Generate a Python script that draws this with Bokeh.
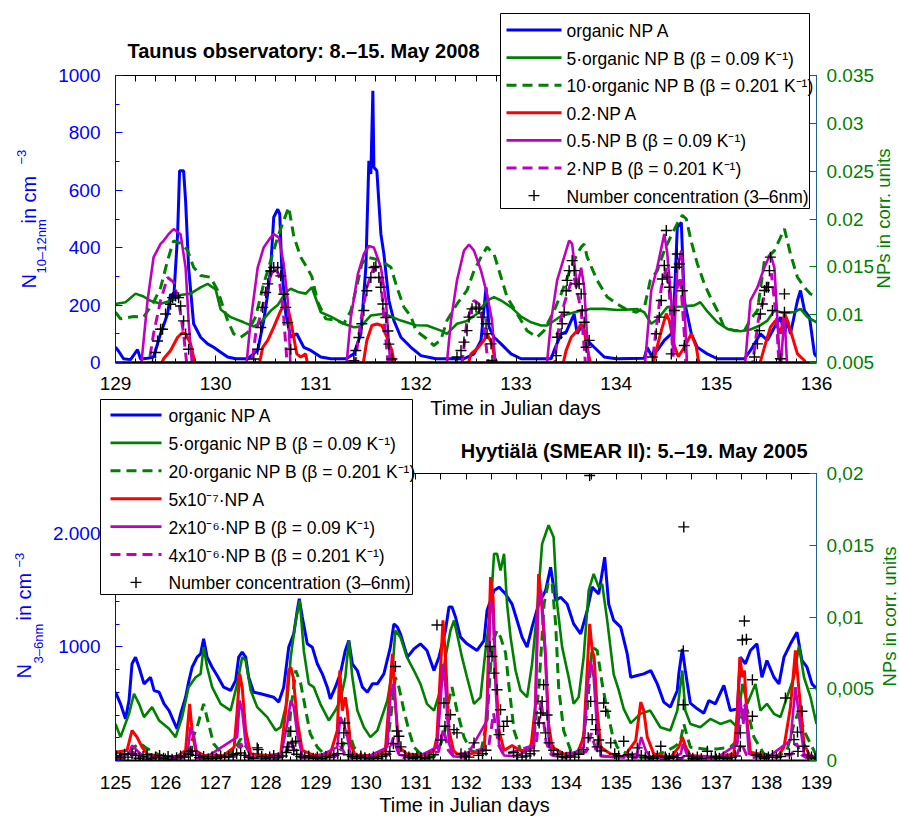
from math import pi
from bokeh.plotting import figure
from bokeh.models import Range1d, LinearAxis, FixedTicker, CustomJSTickFormatter
from bokeh.core.properties import value
from bokeh.layouts import column
from bokeh.embed import file_html
from bokeh.resources import INLINE

FONT = "Liberation Sans"
C_BLUE = "#0000ff"
C_GREEN = "#008000"
C_RED = "#ff0000"
C_MAG = "#bf00bf"
C_RAX = "#1f6488"

# ======================= Taunus (top panel) =======================
# NP series in corr. units (right axis), number concentration in cm^-3 (left axis)
taunus_blue = [(129.00,0.00659),(129.03,0.0062),(129.08,0.00539),(129.15,0.0053),(129.22,0.00635),(129.25,0.00536),
    (129.32,0.00545),(129.38,0.00557),(129.45,0.008),(129.52,0.01007),(129.55,0.01217),(129.58,0.01148),(129.62,0.01841),
    (129.64,0.02504),(129.68,0.02504),(129.70,0.02189),(129.73,0.01493),(129.78,0.00905),(129.85,0.00764),(129.92,0.00695),
    (129.98,0.00659),(130.05,0.00608),(130.12,0.00557),(130.20,0.00539),(130.32,0.00539),(130.42,0.00626),(130.48,0.00938),
    (130.52,0.01217),(130.55,0.01496),(130.58,0.02018),(130.62,0.02102),(130.64,0.02054),(130.66,0.01496),(130.70,0.01007),
    (130.75,0.00764),(130.81,0.008),(130.88,0.00659),(130.95,0.00626),(131.05,0.00557),(131.15,0.00539),(131.30,0.00539),
    (131.38,0.0059),(131.45,0.008),(131.50,0.01496),(131.53,0.02609),(131.55,0.02471),(131.57,0.03341),(131.58,0.0254),
    (131.61,0.02504),(131.65,0.01844),(131.68,0.01634),(131.73,0.01148),(131.78,0.00938),(131.85,0.00764),(131.95,0.00659),
    (132.05,0.00572),(132.20,0.00539),(132.35,0.00539),(132.48,0.00539),(132.58,0.0059),(132.65,0.00731),(132.70,0.01286),
    (132.73,0.00869),(132.78,0.00764),(132.85,0.00695),(132.95,0.0059),(133.05,0.00539),(133.35,0.00539),(133.38,0.00626),
    (133.45,0.008),(133.50,0.00818),(133.58,0.01007),(133.61,0.008),(133.66,0.0089),(133.71,0.00731),(133.78,0.00659),
    (133.88,0.00557),(134.00,0.00539),(134.28,0.00545),(134.31,0.00659),(134.35,0.00572),(134.41,0.00626),(134.48,0.00731),
    (134.55,0.008),(134.58,0.01148),(134.61,0.01913),(134.65,0.01964),(134.68,0.01148),(134.75,0.008),(134.81,0.00659),
    (134.91,0.0059),(135.01,0.00539),(135.28,0.00539),(135.34,0.00626),(135.44,0.008),(135.51,0.00731),(135.58,0.00869),
    (135.64,0.00974),(135.68,0.008),(135.71,0.00938),(135.74,0.008),(135.81,0.01148),(135.84,0.01253),(135.88,0.01043),
    (135.93,0.00974),(135.98,0.0059),(136.00,0.0056)]

taunus_green = [(129.00,0.01112),(129.10,0.0113),(129.20,0.0122),(129.28,0.0119),(129.35,0.01145),(129.45,0.01115),
    (129.55,0.01145),(129.65,0.01205),(129.75,0.0122),(129.85,0.01286),(129.92,0.01322),(130.00,0.01265),(130.05,0.01055),
    (130.15,0.00974),(130.28,0.0092),(130.38,0.00875),(130.45,0.0092),(130.55,0.0104),(130.62,0.011),(130.70,0.01235),
    (130.75,0.01271),(130.82,0.01238),(130.90,0.0122),(130.96,0.01286),(131.05,0.01025),(131.15,0.0098),(131.28,0.00905),
    (131.38,0.00869),(131.45,0.00875),(131.55,0.00992),(131.68,0.0101),(131.85,0.00938),(132.00,0.0089),(132.11,0.00887),
    (132.25,0.00833),(132.31,0.008),(132.41,0.00905),(132.51,0.00935),(132.61,0.0101),(132.71,0.01148),(132.78,0.01184),
    (132.85,0.01148),(132.95,0.01079),(133.05,0.0098),(133.15,0.0092),(133.25,0.00887),(133.31,0.00887),(133.45,0.00986),
    (133.55,0.01016),(133.65,0.01043),(133.75,0.01061),(133.88,0.01061),(134.01,0.01049),(134.21,0.01058),(134.28,0.01025),
    (134.35,0.00905),(134.41,0.0095),(134.51,0.01079),(134.65,0.01085),(134.78,0.01097),(134.84,0.0113),(134.91,0.01034),
    (135.01,0.0092),(135.11,0.00851),(135.24,0.00827),(135.34,0.00845),(135.44,0.0089),(135.51,0.00938),(135.58,0.01043),
    (135.68,0.01016),(135.78,0.01028),(135.84,0.01061),(135.91,0.00974),(136.00,0.0092)]

taunus_green_d = [(129.00,0.01025),(129.05,0.00956),(129.18,0.0098),(129.28,0.00974),(129.38,0.0113),(129.45,0.0128),
    (129.52,0.01565),(129.58,0.01772),(129.67,0.01739),(129.72,0.0167),(129.78,0.01496),(129.85,0.01409),(129.95,0.01391),
    (130.02,0.01253),(130.12,0.00938),(130.18,0.008),(130.25,0.00764),(130.32,0.00815),(130.40,0.0098),(130.48,0.01322),
    (130.55,0.01565),(130.62,0.01811),(130.68,0.01985),(130.73,0.02123),(130.78,0.0182),(130.85,0.01601),(130.91,0.01496),
    (130.96,0.014),(131.02,0.0113),(131.10,0.00956),(131.20,0.00944),(131.28,0.00905),(131.35,0.0104),(131.40,0.01253),
    (131.46,0.01532),(131.51,0.01601),(131.58,0.01586),(131.65,0.01565),(131.75,0.01496),(131.81,0.01286),(131.88,0.01079),
    (131.95,0.0098),(132.00,0.00833),(132.11,0.00746),(132.18,0.00677),(132.25,0.0074),(132.31,0.00938),(132.41,0.01112),
    (132.51,0.01253),(132.58,0.0146),(132.65,0.01601),(132.71,0.01706),(132.78,0.01634),(132.85,0.01391),(132.91,0.01184),
    (133.01,0.0101),(133.11,0.00833),(133.21,0.00764),(133.28,0.00833),(133.38,0.01043),(133.45,0.01217),(133.55,0.01496),
    (133.61,0.01634),(133.65,0.01706),(133.68,0.01739),(133.71,0.01601),(133.81,0.01358),(133.91,0.01184),(134.01,0.01112),
    (134.10,0.01055),(134.20,0.01025),(134.28,0.0107),(134.34,0.01358),(134.41,0.0146),(134.48,0.0167),(134.55,0.01829),
    (134.61,0.01952),(134.66,0.02039),(134.70,0.02),(134.75,0.0176),(134.81,0.01532),(134.88,0.01322),(134.94,0.01184),
    (135.01,0.01043),(135.08,0.0086),(135.18,0.00833),(135.28,0.00833),(135.34,0.0095),(135.41,0.01043),(135.48,0.01565),
    (135.58,0.0167),(135.68,0.01898),(135.74,0.01634),(135.81,0.01391),(135.88,0.01286),(135.94,0.01217),(136.00,0.0119)]

taunus_red = [(129.42,0.004),(129.48,0.00539),(129.55,0.00626),(129.62,0.00764),(129.67,0.00812),(129.70,0.008),
    (129.75,0.00695),(129.78,0.00557),(129.80,0.004),
    (130.42,0.004),(130.47,0.00659),(130.52,0.00731),(130.58,0.00869),(130.65,0.01043),(130.68,0.01091),(130.72,0.01076),
    (130.75,0.00938),(130.78,0.00764),(130.81,0.0059),(130.85,0.00557),(130.90,0.0059),(130.93,0.004),
    (131.46,0.004),(131.51,0.00731),(131.56,0.00887),(131.61,0.00902),(131.66,0.00887),(131.71,0.00764),(131.76,0.00626),
    (131.80,0.004),
    (132.50,0.004),(132.55,0.0059),(132.61,0.00644),(132.68,0.00731),(132.71,0.008),(132.76,0.00695),(132.81,0.004),
    (133.45,0.004),(133.50,0.00626),(133.55,0.00764),(133.61,0.00833),(133.65,0.00905),(133.68,0.00833),(133.71,0.00659),
    (133.76,0.004),
    (134.35,0.004),(134.40,0.00626),(134.45,0.00833),(134.50,0.0101),(134.53,0.00938),(134.58,0.0068),(134.62,0.0056),
    (134.68,0.00659),(134.75,0.008),(134.80,0.00659),(134.84,0.004),
    (135.41,0.004),(135.48,0.00659),(135.54,0.00869),(135.59,0.00938),(135.64,0.008),(135.68,0.0101),(135.71,0.00938),
    (135.74,0.00833),(135.81,0.0059),(135.88,0.00521),(135.92,0.004)]

taunus_mag = [(129.25,0.004),(129.32,0.01148),(129.38,0.01598),(129.45,0.01739),(129.48,0.01772),(129.53,0.01841),
    (129.58,0.01895),(129.65,0.01841),(129.70,0.01493),(129.73,0.00935),(129.77,0.004),
    (130.30,0.004),(130.35,0.00935),(130.42,0.01493),(130.48,0.01703),(130.55,0.01808),(130.58,0.01841),(130.63,0.01808),
    (130.68,0.01529),(130.72,0.01148),(130.75,0.004),
    (131.30,0.004),(131.35,0.00971),(131.42,0.01424),(131.48,0.01634),(131.53,0.01718),(131.58,0.01703),(131.65,0.01496),
    (131.70,0.01148),(131.75,0.004),
    (132.30,0.004),(132.35,0.00938),(132.41,0.01358),(132.48,0.0167),(132.53,0.01733),(132.58,0.0167),(132.65,0.0146),
    (132.71,0.01217),(132.76,0.00938),(132.80,0.004),
    (133.30,0.004),(133.35,0.00938),(133.41,0.01358),(133.48,0.01601),(133.53,0.01775),(133.56,0.01739),(133.61,0.01286),
    (133.65,0.0149),(133.68,0.01286),(133.73,0.004),
    (134.28,0.004),(134.35,0.01253),(134.41,0.01496),(134.48,0.01844),(134.51,0.0164),(134.55,0.01148),(134.57,0.0056),
    (134.61,0.01496),(134.65,0.0167),(134.68,0.01148),(134.71,0.004),
    (135.28,0.004),(135.34,0.01148),(135.41,0.01286),(135.48,0.01496),(135.54,0.01634),(135.58,0.0149),(135.61,0.00938),
    (135.64,0.004),(135.68,0.0101),(135.71,0.004)]

taunus_mag_d = [(129.32,0.004),(129.38,0.008),(129.45,0.01148),(129.52,0.01388),(129.58,0.0134),(129.63,0.01148),
    (129.68,0.008),(129.72,0.004),
    (130.35,0.004),(130.40,0.008),(130.45,0.01007),(130.52,0.01319),(130.58,0.01493),(130.63,0.01424),(130.68,0.00971),
    (130.72,0.004),
    (131.38,0.004),(131.45,0.00938),(131.51,0.01286),(131.58,0.01496),(131.65,0.01355),(131.68,0.00971),(131.73,0.004),
    (132.45,0.004),(132.51,0.00938),(132.58,0.01148),(132.63,0.01112),(132.68,0.00869),(132.73,0.004),
    (133.38,0.004),(133.41,0.00764),(133.48,0.01112),(133.55,0.0134),(133.58,0.01391),(133.65,0.01043),(133.70,0.004),
    (134.35,0.004),(134.40,0.0086),(134.45,0.0128),(134.50,0.0149),(134.53,0.0125),(134.56,0.0068),(134.60,0.0125),
    (134.64,0.014),(134.68,0.008),(134.70,0.004),
    (135.35,0.004),(135.42,0.0095),(135.50,0.0128),(135.55,0.0143),(135.60,0.0095),(135.63,0.004)]

taunus_nc = [(129.37,0),(129.40,35),(129.42,75),(129.45,116),(129.47,116),(129.50,169),(129.55,203),(129.57,226),
    (129.60,232),(129.63,226),(129.65,197),(129.68,145),(129.70,99),(129.73,46),
    (130.38,12),(130.42,46),(130.45,122),(130.47,192),(130.50,244),(130.52,274),(130.55,319),(130.58,331),(130.62,331),
    (130.65,302),(130.68,238),(130.70,192),(130.72,139),(130.75,46),
    (131.38,6),(131.40,42),(131.43,87),(131.46,135),(131.48,181),(131.51,250),(131.55,296),(131.58,331),(131.60,335),
    (131.63,296),(131.65,262),(131.67,204),(131.70,157),(131.72,110),(131.73,64),(131.76,12),
    (132.41,19),(132.45,42),(132.48,71),(132.51,111),(132.53,158),(132.56,187),(132.60,193),(132.63,187),(132.66,158),
    (132.70,135),(132.71,100),(132.75,65),(132.76,7),
    (133.40,24),(133.41,88),(133.45,100),(133.46,135),(133.48,175),(133.50,250),(133.51,286),(133.53,320),(133.56,355),
    (133.58,320),(133.60,274),(133.63,274),(133.65,239),(133.66,181),(133.68,140),(133.70,53),(133.73,77),
    (134.36,19),(134.40,100),(134.43,158),(134.45,216),(134.46,291),(134.48,338),(134.50,460),(134.51,297),(134.53,262),
    (134.55,30),(134.58,181),(134.60,332),(134.61,378),(134.63,343),(134.66,250),(134.68,59),
    (135.38,19),(135.41,65),(135.43,111),(135.44,169),(135.46,204),(135.48,251),(135.50,262),(135.52,262),(135.53,320),
    (135.54,367),(135.56,181),(135.64,13),(135.68,239),(135.68,175)]

taunus_labels = ["organic NP A",
                 "5\u00b7organic NP B (\u03b2 = 0.09 K\u207b\u00b9)",
                 "10\u00b7organic NP B (\u03b2 = 0.201 K\u207b\u00b9)",
                 "0.2\u00b7NP A",
                 "0.5\u00b7NP B (\u03b2 = 0.09 K\u207b\u00b9)",
                 "2\u00b7NP B (\u03b2 = 0.201 K\u207b\u00b9)",
                 "Number concentration (3\u20136nm)"]
taunus_title = "Taunus observatory: 8.\u201315. May 2008"
taunus_ylabel = ["N", "10\u201312nm", " in cm", "\u22123"]
taunus_xticks = [129, 130, 131, 132, 133, 134, 135, 136]
taunus_lticks = [0, 200, 400, 600, 800, 1000]
taunus_rticks = [0.005, 0.01, 0.015, 0.02, 0.025, 0.03, 0.035]

# ======================= Hyytiälä (bottom panel) =======================
hyy_blue = [(125.00,0.00476),(125.10,0.00395),(125.20,0.0029),(125.27,0.00418),(125.33,0.00674),(125.40,0.0072),
    (125.47,0.0065),(125.57,0.00534),(125.70,0.0058),(125.77,0.00488),(125.87,0.00476),(125.97,0.00395),(126.07,0.00348),
    (126.17,0.00267),(126.23,0.0022),(126.30,0.00325),(126.40,0.00441),(126.46,0.00546),(126.53,0.0065),(126.63,0.0072),
    (126.70,0.00743),(126.76,0.00848),(126.83,0.0072),(126.93,0.0065),(127.03,0.00592),(127.16,0.00511),(127.30,0.00488),
    (127.40,0.00558),(127.46,0.0072),(127.53,0.00755),(127.60,0.0072),(127.66,0.0058),(127.76,0.00476),(127.90,0.00465),
    (128.03,0.00453),(128.16,0.00441),(128.26,0.00407),(128.36,0.00511),(128.46,0.0079),(128.56,0.00883),(128.63,0.01045),
    (128.67,0.01127),(128.73,0.01),(128.83,0.00813),(128.93,0.0079),(129.03,0.00674),(129.13,0.00604),(129.23,0.00511),
    (129.29,0.0043),(129.39,0.00511),(129.49,0.00604),(129.59,0.00767),(129.66,0.00836),(129.73,0.00674),(129.83,0.00627),
    (129.93,0.00511),(130.03,0.00476),(130.13,0.00534),(130.23,0.00534),(130.36,0.00604),(130.49,0.0079),(130.56,0.00952),
    (130.63,0.0093),(130.69,0.00883),(130.83,0.0072),(130.96,0.00778),(131.09,0.00813),(131.22,0.00767),(131.36,0.00627),
    (131.46,0.0072),(131.59,0.00906),(131.66,0.0107),(131.72,0.01069),(131.79,0.01),(131.89,0.0086),(132.02,0.00813),
    (132.22,0.00767),(132.36,0.00836),(132.42,0.01045),(132.56,0.01185),(132.66,0.01208),(132.79,0.0116),(132.92,0.0109),
    (133.02,0.00976),(133.12,0.0086),(133.22,0.0079),(133.32,0.00929),(133.45,0.0109),(133.59,0.01185),(133.69,0.01347),
    (133.79,0.01115),(133.89,0.01138),(134.02,0.0109),(134.15,0.00952),(134.29,0.00883),(134.42,0.01045),(134.52,0.01208),
    (134.65,0.0116),(134.77,0.01417),(134.85,0.0109),(134.95,0.00976),(135.09,0.00929),(135.22,0.00743),(135.29,0.0058),
    (135.42,0.00592),(135.55,0.00604),(135.69,0.00627),(135.82,0.00534),(135.95,0.00407),(136.08,0.00372),(136.22,0.00488),
    (136.25,0.00604),(136.32,0.00778),(136.38,0.00627),(136.48,0.004),(136.62,0.0036),(136.75,0.0033),(136.85,0.00418),
    (136.98,0.00395),(137.15,0.00523),(137.28,0.00348),(137.42,0.0036),(137.48,0.0072),(137.58,0.00674),(137.68,0.00767),
    (137.81,0.00813),(137.91,0.0058),(138.01,0.00697),(138.15,0.0058),(138.25,0.00534),(138.35,0.0072),(138.48,0.00813),
    (138.61,0.00894),(138.71,0.00697),(138.81,0.0065),(138.91,0.00534),(139.00,0.005)]

hyy_green = [(125.00,0.00255),(125.10,0.00163),(125.27,0.00325),(125.37,0.00465),(125.47,0.00395),(125.57,0.00302),
    (125.73,0.00372),(125.87,0.00279),(126.07,0.00221),(126.20,0.00163),(126.33,0.00302),(126.46,0.00511),(126.60,0.0058),
    (126.70,0.00604),(126.76,0.0079),(126.83,0.0065),(126.93,0.00511),(127.10,0.00395),(127.30,0.00348),(127.43,0.00534),
    (127.53,0.0072),(127.60,0.00697),(127.70,0.00488),(127.83,0.00372),(128.03,0.00302),(128.20,0.00209),(128.30,0.00232),
    (128.43,0.00418),(128.50,0.0072),(128.60,0.00976),(128.68,0.01115),(128.76,0.00767),(128.86,0.00534),(128.96,0.00511),
    (129.09,0.00395),(129.26,0.00279),(129.39,0.00348),(129.49,0.00418),(129.59,0.0058),(129.66,0.00836),(129.73,0.0058),
    (129.83,0.00348),(129.96,0.00232),(130.09,0.00163),(130.23,0.00209),(130.43,0.00418),(130.53,0.00627),(130.59,0.00906),
    (130.69,0.0086),(130.82,0.0072),(130.96,0.00627),(131.09,0.00534),(131.22,0.00395),(131.36,0.00348),(131.49,0.00488),
    (131.59,0.0072),(131.69,0.00906),(131.76,0.00976),(131.82,0.00883),(131.92,0.0072),(132.02,0.0058),(132.16,0.00395),
    (132.29,0.00441),(132.39,0.00767),(132.49,0.01045),(132.56,0.0144),(132.62,0.0144),(132.69,0.01324),(132.76,0.0144),
    (132.82,0.01092),(132.89,0.0086),(132.99,0.00627),(133.09,0.00488),(133.22,0.00441),(133.32,0.00674),(133.42,0.01045),
    (133.52,0.0151),(133.59,0.0158),(133.65,0.0164),(133.75,0.01556),(133.82,0.01092),(133.92,0.0079),(134.05,0.0058),
    (134.15,0.00395),(134.25,0.00441),(134.35,0.0072),(134.45,0.01185),(134.55,0.013),(134.65,0.01208),(134.72,0.0123),
    (134.82,0.00976),(134.95,0.006),(135.05,0.0049),(135.15,0.0036),(135.29,0.0026),(135.48,0.00325),(135.68,0.00348),
    (135.88,0.00232),(136.08,0.00209),(136.22,0.00348),(136.32,0.00627),(136.38,0.00348),(136.48,0.00255),(136.68,0.00232),
    (136.88,0.0029),(137.08,0.00255),(137.28,0.00279),(137.42,0.00232),(137.52,0.00534),(137.62,0.00395),(137.78,0.00534),
    (137.88,0.00348),(138.01,0.00395),(138.15,0.00325),(138.28,0.00302),(138.41,0.00441),(138.55,0.0058),(138.65,0.008),
    (138.75,0.0058),(138.88,0.00441),(139.00,0.00255)]

hyy_green_d = [(125.00,0.00058),(125.23,0.00035),(125.37,0.00093),(125.50,0.0012),(125.60,0.0009),(125.83,0.00046),
    (126.10,0.00012),(126.37,0.00023),(126.50,0.00116),(126.63,0.00232),(126.76,0.00395),(126.86,0.00255),(126.96,0.00116),
    (127.16,0.00035),(127.37,0.0007),(127.50,0.0015),(127.60,0.001),(127.70,0.00046),(127.96,0.00023),(128.23,0.00012),
    (128.43,0.0007),(128.50,0.00348),(128.60,0.00627),(128.70,0.00534),(128.80,0.00348),(128.89,0.00186),(129.03,0.00093),
    (129.23,0.00023),(129.43,0.00046),(129.53,0.00093),(129.66,0.00209),(129.76,0.00093),(129.96,0.00023),(130.23,0.00023),
    (130.43,0.00116),(130.53,0.00395),(130.59,0.0058),(130.66,0.00511),(130.76,0.00348),(130.86,0.00209),(130.96,0.00093),
    (131.16,0.00023),(131.36,0.00023),(131.56,0.00163),(131.66,0.00418),(131.72,0.00511),(131.82,0.00348),(131.96,0.00163),
    (132.09,0.0007),(132.29,0.00046),(132.42,0.00279),(132.52,0.00813),(132.62,0.00906),(132.69,0.0086),(132.79,0.0075),
    (132.86,0.00511),(132.96,0.00209),(133.09,0.0007),(133.22,0.00046),(133.36,0.00163),(133.46,0.00534),(133.56,0.01092),
    (133.65,0.0125),(133.72,0.0123),(133.79,0.00952),(133.85,0.00511),(133.95,0.00209),(134.09,0.0007),(134.29,0.00046),
    (134.42,0.0035),(134.52,0.0079),(134.62,0.00767),(134.72,0.00534),(134.82,0.00348),(134.92,0.00186),(135.02,0.00093),
    (135.22,0.00046),(135.50,0.00023),(135.68,0.00023),(135.95,0.00058),(136.15,0.00093),(136.28,0.00128),(136.35,0.00255),
    (136.48,0.00093),(136.75,0.00081),(137.02,0.00081),(137.28,0.00093),(137.42,0.00139),(137.55,0.00395),(137.62,0.0035),
    (137.75,0.00163),(137.95,0.00046),(138.21,0.00023),(138.41,0.0007),(138.55,0.00255),(138.65,0.00348),(138.75,0.00209),
    (138.88,0.00116),(139.00,0.00035)]

hyy_red = [(125.00,0.00058),(125.23,0.0007),(125.33,0.00209),(125.43,0.00163),(125.53,0.00093),(125.63,0.00046),
    (125.90,0.00028),(126.23,0.00028),(126.40,0.0007),(126.48,0.00395),(126.53,0.00209),(126.60,0.0007),(126.76,0.00035),
    (127.16,0.00035),(127.37,0.00093),(127.43,0.00348),(127.48,0.00604),(127.53,0.00511),(127.60,0.00209),(127.70,0.00046),
    (128.03,0.00035),(128.30,0.00046),(128.40,0.00348),(128.46,0.00627),(128.50,0.0065),(128.55,0.0058),(128.63,0.00279),
    (128.73,0.0007),(128.96,0.00035),(129.29,0.00046),(129.43,0.00209),(129.48,0.00627),(129.53,0.00348),(129.59,0.00441),
    (129.63,0.00348),(129.69,0.00116),(129.79,0.00035),(130.23,0.00035),(130.39,0.0007),(130.46,0.00395),(130.53,0.00743),
    (130.59,0.00395),(130.66,0.00093),(130.82,0.00046),(131.22,0.00035),(131.36,0.0007),(131.42,0.00163),(131.49,0.00627),
    (131.54,0.00976),(131.59,0.0072),(131.66,0.00209),(131.75,0.0007),(131.82,0.00046),(132.09,0.00046),(132.36,0.0007),
    (132.42,0.00395),(132.49,0.01278),(132.54,0.01138),(132.59,0.00627),(132.66,0.00209),(132.76,0.0007),(132.92,0.00105),
    (133.09,0.0007),(133.29,0.0007),(133.39,0.00395),(133.45,0.013),(133.50,0.01138),(133.59,0.0072),(133.65,0.00255),
    (133.72,0.00093),(133.95,0.00046),(134.22,0.00046),(134.35,0.00163),(134.42,0.00627),(134.47,0.00952),(134.52,0.00767),
    (134.56,0.0072),(134.62,0.00348),(134.69,0.00093),(134.89,0.00046),(135.15,0.00023),(135.39,0.00139),(135.49,0.00407),
    (135.55,0.00348),(135.62,0.00163),(135.75,0.00046),(136.09,0.00023),(136.25,0.00093),(136.32,0.00163),(136.39,0.00093),
    (136.48,0.00035),(137.02,0.00023),(137.35,0.00046),(137.42,0.00348),(137.47,0.0072),(137.52,0.0058),(137.56,0.00627),
    (137.62,0.00255),(137.68,0.00058),(138.22,0.00023),(138.35,0.00093),(138.48,0.00372),(138.58,0.00767),(138.65,0.00488),
    (138.75,0.00116),(138.88,0.00023),(139.00,0.00023)]

hyy_mag = [(125.00,0.00023),(125.27,0.00046),(125.33,0.00105),(125.43,0.0007),(125.57,0.00023),(126.00,0.0002),
    (126.43,0.0003),(126.50,0.00232),(126.57,0.00163),(126.63,0.00046),(126.80,0.0002),(127.43,0.00163),(127.48,0.00418),
    (127.53,0.00348),(127.60,0.00116),(127.70,0.0002),(128.30,0.00025),(128.43,0.00255),(128.50,0.00418),(128.56,0.00372),
    (128.63,0.00186),(128.73,0.00035),(129.00,0.0002),(129.43,0.00093),(129.49,0.00302),(129.56,0.00255),(129.63,0.00163),
    (129.69,0.0004),(130.00,0.0002),(130.43,0.00093),(130.49,0.00441),(130.55,0.00534),(130.59,0.00395),(130.66,0.0004),
    (131.00,0.0002),(131.42,0.00093),(131.49,0.00395),(131.54,0.00674),(131.59,0.00511),(131.66,0.0012),(131.75,0.0003),
    (132.00,0.0002),(132.42,0.00279),(132.49,0.01115),(132.54,0.01045),(132.59,0.00511),(132.66,0.00116),(132.76,0.00035),
    (133.00,0.0003),(133.36,0.00093),(133.44,0.01092),(133.50,0.01185),(133.57,0.0086),(133.65,0.00163),(133.72,0.00035),
    (134.00,0.0002),(134.35,0.00093),(134.42,0.00488),(134.49,0.00697),(134.55,0.0058),(134.62,0.00209),(134.69,0.00035),
    (135.00,0.0002),(135.42,0.00046),(135.50,0.00163),(135.59,0.0007),(135.69,0.00023),(136.00,0.00015),(136.29,0.00046),
    (136.33,0.00116),(136.42,0.00035),(137.00,0.00015),(137.42,0.00116),(137.47,0.00441),(137.54,0.00255),(137.58,0.00395),
    (137.65,0.00046),(138.00,0.00015),(138.48,0.00139),(138.58,0.00511),(138.67,0.00255),(138.75,0.00046),(139.00,0.0001)]

hyy_mag_d = [(125.00,0.0001),(125.25,0.0002),(125.35,0.0006),(125.45,0.0002),(125.60,0.0001),(126.40,0.0002),
    (126.50,0.0008),(126.60,0.0002),(126.70,0.00015),(127.40,0.0003),(127.50,0.0012),(127.60,0.0003),(127.70,0.00015),
    (128.40,0.0004),(128.50,0.0015),(128.60,0.0004),(128.70,0.0002),(129.40,0.0003),(129.50,0.001),(129.60,0.0003),
    (129.70,0.0002),(130.45,0.0004),(130.55,0.0016),(130.65,0.0005),(130.75,0.0002),(131.45,0.0006),(131.55,0.0022),
    (131.65,0.0007),(131.75,0.0003),(132.45,0.0009),(132.55,0.0033),(132.65,0.0011),(132.75,0.0004),(133.40,0.0011),
    (133.50,0.0042),(133.60,0.0013),(133.70,0.0004),(134.40,0.0006),(134.50,0.0019),(134.60,0.0007),(134.70,0.0003),
    (135.40,0.0002),(135.50,0.0005),(135.60,0.0002),(135.70,0.0001),(136.30,0.0001),(136.35,0.0003),(136.45,0.0001),
    (137.40,0.0003),(137.50,0.0012),(137.60,0.0004),(137.70,0.0002),(138.50,0.0004),(138.60,0.0012),(138.70,0.0004),
    (138.80,0.0002),(139.00,0.0001)]

hyy_nc = [(125.02,40),(125.10,25),(125.18,55),(125.25,30),(125.33,60),(125.40,45),(125.47,20),(125.55,35),(125.63,50),
    (125.72,15),(125.80,30),(125.88,45),(125.96,20),(126.05,35),(126.13,10),(126.22,25),(126.30,40),(126.38,30),(126.46,55),
    (126.60,45),(126.68,25),(126.76,35),(126.85,15),(126.93,30),(127.02,20),(127.10,40),(127.18,25),(127.26,35),(127.35,50),
    (127.42,60),(127.58,45),(127.66,30),(127.75,20),(127.92,35),(128.00,15),(128.08,30),(128.16,45),(128.25,25),(128.33,40),
    (128.41,70),(128.62,55),(128.70,35),(128.78,25),(128.86,40),(128.95,20),(129.03,30),(129.12,15),(129.20,35),(129.28,25),
    (129.36,45),(129.44,60),(129.65,50),(129.73,35),(129.82,20),(129.90,40),(129.98,25),(130.07,15),(130.15,30),(130.24,20),
    (130.32,35),(130.40,55),(130.48,80),(130.78,45),(130.86,30),(130.94,20),(131.02,35),(131.10,25),(131.18,15),(131.27,30),
    (131.35,50),(131.90,60),(131.98,40),(132.06,30),(132.25,45),(132.33,60),(132.40,90),(132.95,70),(133.03,45),(133.12,30),
    (133.20,40),(133.28,60),(133.36,85),(133.75,90),(133.83,55),(133.92,35),(134.00,25),(134.08,40),(134.17,30),(134.25,55),
    (134.62,120),(134.70,85),(134.97,60),(135.05,40),(135.24,50),(135.32,30),(135.50,45),(135.58,25),(135.66,35),(135.74,20),
    (135.82,40),(135.98,30),(136.06,20),(136.14,35),(136.22,25),(136.45,40),(136.53,20),(136.62,30),(136.70,15),(136.90,25),
    (136.98,35),(137.06,20),(137.14,30),(137.22,15),(137.30,25),(137.38,40),(137.80,50),(137.88,35),(137.96,20),(138.04,30),
    (138.12,45),(138.20,25),(138.28,35),(138.46,60),(138.63,80),(138.83,45),(138.90,30),(138.97,20),
    (126.50,82),(126.53,82),(127.50,67),(127.83,111),(127.85,96),(128.44,120),(128.50,257),(128.53,155),(128.56,90),
    (128.60,170),(129.52,150),(129.56,243),(129.58,330),(130.55,150),(130.59,827),(130.62,260),(130.66,213),(130.70,120),
    (131.42,1193),(131.50,180),(131.56,506),(131.58,301),(131.69,403),(131.76,272),(131.82,243),(132.16,155),(132.48,1003),
    (132.52,915),(132.56,769),(132.62,623),(132.66,228),(132.69,447),(132.75,300),(132.82,345),(133.46,330),(133.49,418),
    (133.52,520),(133.55,667),(133.59,243),(133.62,400),(133.66,155),(134.35,96),(134.44,200),(134.47,2509),(134.49,520),
    (134.52,360),(134.59,272),(134.65,180),(134.75,506),(134.79,433),(134.89,155),(135.15,170),(135.42,111),(135.89,126),
    (136.34,965),(136.34,491),(136.35,2056),(136.82,82),(137.48,243),(137.48,126),(137.52,1061),(137.56,1228),(137.60,1067),
    (137.72,711),(137.72,389),(138.38,550),(138.55,184),(138.62,250),(138.71,433),(138.75,126)]

hyy_labels = ["organic NP A",
              "5\u00b7organic NP B (\u03b2 = 0.09 K\u207b\u00b9)",
              "20\u00b7organic NP B (\u03b2 = 0.201 K\u207b\u00b9)",
              "5x10\u207b\u2077\u00b7NP A",
              "2x10\u207b\u2076\u00b7NP B (\u03b2 = 0.09 K\u207b\u00b9)",
              "4x10\u207b\u2076\u00b7NP B (\u03b2 = 0.201 K\u207b\u00b9)",
              "Number concentration (3\u20136nm)"]
hyy_title = "Hyyti\u00e4l\u00e4 (SMEAR II): 5.\u201319. May 2005"
hyy_ylabel = ["N", "3\u20136nm", " in cm", "\u22123"]
hyy_xticks = list(range(125, 140))
hyy_lticks = [1000, 2000]
hyy_lticklabels = {1000: "1000", 2000: "2.000"}
hyy_rticks = [0, 0.005, 0.01, 0.015, 0.02]
xlabel = "Time in Julian days"
rlabel = "NPs in corr. units"

# series styles (shared by curves and legend entries)
STYLES = [dict(kind="line", color=C_BLUE, width=3.0, dash="solid"),
          dict(kind="line", color=C_GREEN, width=2.6, dash="solid"),
          dict(kind="line", color=C_GREEN, width=3.0, dash="10 6"),
          dict(kind="line", color=C_RED, width=3.0, dash="solid"),
          dict(kind="line", color=C_MAG, width=2.6, dash="solid"),
          dict(kind="line", color=C_MAG, width=3.0, dash="10 6"),
          dict(kind="cross")]

# frame geometry (page pixels) used to place texts / legends drawn outside the frame
TOP_FRAME = dict(left=115, right=816, top=75, bottom=362, x0=129, x1=136, y0=0, y1=1000)
BOT_FRAME = dict(left=115, right=816, top=473, bottom=760, x0=125, x1=139, y0=0, y1=2526)


def conv(fr, px, py):
    x = fr["x0"] + (px - fr["left"]) * (fr["x1"] - fr["x0"]) / (fr["right"] - fr["left"])
    y = fr["y0"] + (fr["bottom"] - py) * (fr["y1"] - fr["y0"]) / (fr["bottom"] - fr["top"])
    return x, y


def unzip(pairs):
    return [p[0] for p in pairs], [p[1] for p in pairs]


def style_axis(ax, color, standoff, line_color=None):
    ax.major_label_text_font = FONT
    ax.major_label_text_font_size = "19px"
    ax.major_label_text_color = color
    ax.major_label_standoff = standoff
    ax.major_tick_in = 7
    ax.major_tick_out = 0
    ax.minor_tick_in = 4
    ax.minor_tick_out = 0
    ax.major_tick_line_color = color
    ax.minor_tick_line_color = color
    ax.axis_line_color = line_color if line_color is not None else color


def top_tick_axis(p, ticks):
    # ticks along the upper frame edge (no labels)
    ax = LinearAxis(ticker=FixedTicker(ticks=[], minor_ticks=ticks))
    ax.minor_tick_in = 6
    ax.minor_tick_out = 0
    ax.minor_tick_line_color = "black"
    ax.axis_line_color = None
    ax.major_label_standoff = 0
    p.add_layout(ax, "above")


def gtext(p, fr, px, py, text, size, color="black", angle=0.0, align="left", bold=False, on_baseline=True):
    # (px, py): page position of the text baseline start; drawn with a 'middle' baseline
    s = float(size.replace("px", ""))
    if on_baseline:
        if angle:
            px = px - 0.33 * s
        else:
            py = py - 0.33 * s
    x, y = conv(fr, px, py)
    p.text(x=[x], y=[y], text=[text], angle=angle, text_font=value(FONT), text_font_size=value(size),
           text_color=color, text_align=align, text_baseline="middle",
           text_font_style="bold" if bold else "normal", level="overlay")


def draw_legend(p, fr, box, row0, dy, gx0, gx1, tx, labels):
    l, t = conv(fr, box[0], box[1])
    r, b = conv(fr, box[2], box[3])
    p.quad(left=[l], right=[r], top=[t], bottom=[b], fill_color="white", line_color="black",
           line_width=1, level="overlay")
    for i, (st, lab) in enumerate(zip(STYLES, labels)):
        py = row0 + i * dy
        x0, y = conv(fr, gx0, py)
        x1, _ = conv(fr, gx1, py)
        if st["kind"] == "line":
            p.line([x0, x1], [y, y], line_color=st["color"], line_width=st["width"],
                   line_dash=st["dash"], level="overlay")
        else:
            p.scatter([(x0 + x1) / 2], [y], marker="cross", size=11, line_color="black",
                      line_width=1.4, level="overlay")
        gtext(p, fr, tx, py + 1, lab, "17.5px", on_baseline=False)


def draw_series(p, series, nc):
    for st, s in zip(STYLES[:6], series):
        x, y = unzip(s)
        p.line(x, y, y_range_name="np", line_color=st["color"], line_width=st["width"], line_dash=st["dash"])
    x, y = unzip(nc)
    p.scatter(x, y, marker="cross", size=11, line_color="black", line_width=1.4)


def ylabel(p, fr, parts, base_x, sub_x, sup_x, ys, color):
    sizes = ["20px", "13px", "20px", "13px"]
    xs = [base_x, sub_x, base_x, sup_x]
    for part, size, px, py in zip(parts, sizes, xs, ys):
        gtext(p, fr, px, py, part, size, color, pi / 2)


def make_figure(height, xr, yr, npr, border_top, border_bottom):
    p = figure(width=899, height=height, x_range=Range1d(*xr), y_range=Range1d(*yr),
               output_backend="svg", toolbar_location=None,
               x_axis_location=None, y_axis_location=None,
               min_border_left=115, min_border_right=83, min_border_top=border_top,
               min_border_bottom=border_bottom)
    p.extra_y_ranges = {"np": Range1d(*npr)}
    p.outline_line_color = "black"
    p.outline_line_width = 1
    p.background_fill_color = "white"
    p.border_fill_color = "white"
    p.xgrid.visible = False
    p.ygrid.visible = False
    return p


# ----------------------------- top figure -----------------------------
p1 = make_figure(398, (129, 136), (0, 1000), (0.005, 0.035), 75, 36)

ax = LinearAxis(ticker=FixedTicker(ticks=taunus_xticks, minor_ticks=[129 + 0.2 * i for i in range(36)]))
style_axis(ax, "black", 14)
ax.axis_line_width = 2.5
p1.add_layout(ax, "below")
top_tick_axis(p1, [129 + 0.2 * i for i in range(36)])
ax = LinearAxis(ticker=FixedTicker(ticks=taunus_lticks, minor_ticks=[100, 300, 500, 700, 900]))
style_axis(ax, C_BLUE, 15)
p1.add_layout(ax, "left")
ax = LinearAxis(y_range_name="np", ticker=FixedTicker(ticks=taunus_rticks),
                formatter=CustomJSTickFormatter(code="return tick.toFixed(3).replace(/0+$/, '');"))
style_axis(ax, C_GREEN, 10, line_color=C_RAX)
p1.add_layout(ax, "right")

draw_series(p1, [taunus_blue, taunus_green, taunus_green_d, taunus_red, taunus_mag, taunus_mag_d], taunus_nc)
draw_legend(p1, TOP_FRAME, (500, 13, 809, 208), 29.5, 27.6, 506, 561, 566, taunus_labels)
gtext(p1, TOP_FRAME, 127, 57, taunus_title, "20px", bold=True)
ylabel(p1, TOP_FRAME, taunus_ylabel, 35, 45, 25, [288, 273, 223, 164], C_BLUE)
gtext(p1, TOP_FRAME, 889, 218, rlabel, "18.5px", C_GREEN, pi / 2, align="center")

# ----------------------------- bottom figure -----------------------------
p2 = make_figure(418, (125, 139), (0, 2526), (0, 0.02), 75, 56)

ax = LinearAxis(ticker=FixedTicker(ticks=hyy_xticks, minor_ticks=[125 + 0.5 * i for i in range(29)]))
style_axis(ax, "black", 15)
ax.axis_line_width = 2
p2.add_layout(ax, "below")
top_tick_axis(p2, [125 + 0.5 * i for i in range(29)])
ax = LinearAxis(ticker=FixedTicker(ticks=hyy_lticks, minor_ticks=[200 * i for i in range(13)]),
                major_label_overrides=hyy_lticklabels)
style_axis(ax, C_BLUE, 15)
p2.add_layout(ax, "left")
ax = LinearAxis(y_range_name="np", ticker=FixedTicker(ticks=hyy_rticks),
                formatter=CustomJSTickFormatter(
                    code="if (tick == 0) { return '0'; } return tick.toFixed(3).replace(/0+$/, '').replace('.', ',');"))
style_axis(ax, C_GREEN, 10, line_color=C_RAX)
p2.add_layout(ax, "right")

draw_series(p2, [hyy_blue, hyy_green, hyy_green_d, hyy_red, hyy_mag, hyy_mag_d], hyy_nc)
draw_legend(p2, BOT_FRAME, (100, 399, 412, 594), 414.5, 27.9, 110, 161, 168, hyy_labels)
gtext(p2, BOT_FRAME, 807, 457, hyy_title, "20px", bold=True, align="right")
gtext(p2, BOT_FRAME, 515, 414, xlabel, "20px", align="center")   # x label of the upper panel
gtext(p2, BOT_FRAME, 464, 811, xlabel, "20px", align="center")   # x label of the lower panel
ylabel(p2, BOT_FRAME, hyy_ylabel, 30, 42, 23, [678, 663, 620, 567], C_BLUE)
gtext(p2, BOT_FRAME, 895, 616, rlabel, "18.5px", C_GREEN, pi / 2, align="center")

layout = column(p1, p2, spacing=0)
with open("out.html", "w") as f:
    f.write(file_html(layout, INLINE))
